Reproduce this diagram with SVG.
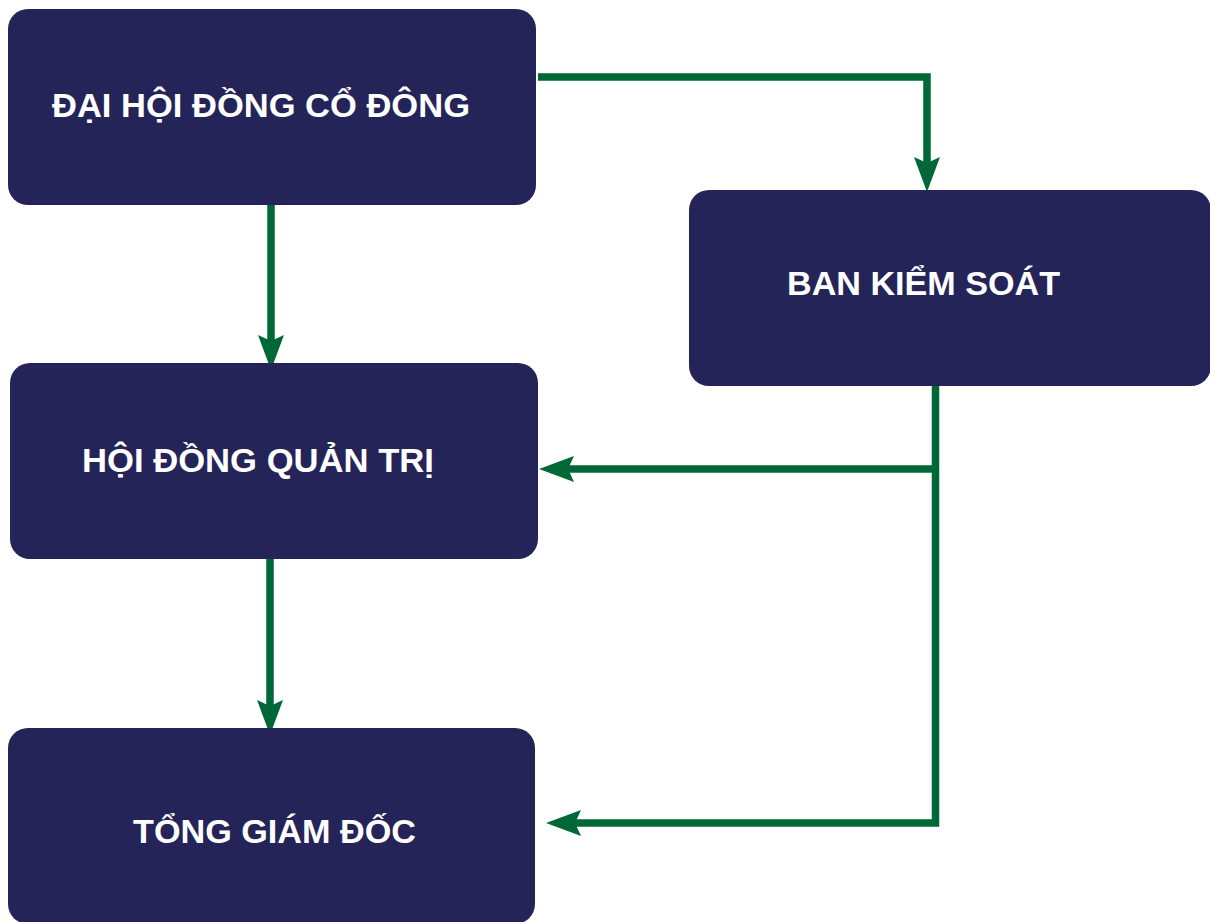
<svg xmlns="http://www.w3.org/2000/svg" width="1210" height="922" viewBox="0 0 1210 922">
  <defs>
    <style>
      .box { fill: #252459; }
      .lbl { fill: #ffffff; font-family: "Liberation Sans", Arial, sans-serif; font-weight: bold; font-size: 33px; }
      .conn { fill: none; stroke: #006837; stroke-width: 7.5; stroke-linejoin: miter; }
    </style>
    <marker id="arr" markerUnits="userSpaceOnUse" markerWidth="36" markerHeight="28" refX="10" refY="13" orient="auto" viewBox="0 0 36 26">
      <path d="M0,0 L35,13 L0,26 L6,13 Z" fill="#006837"/>
    </marker>
  </defs>
  <rect width="1210" height="922" fill="#ffffff"/>

  <g id="connectors">
    <path class="conn" d="M538,77 H927 V167" marker-end="url(#arr)"/>
    <path class="conn" d="M271,195 V345" marker-end="url(#arr)"/>
    <path class="conn" d="M270,559 V710" marker-end="url(#arr)"/>
    <path class="conn" d="M935.5,386 V823 H571" marker-end="url(#arr)"/>
    <path class="conn" d="M935.5,469 H564" marker-end="url(#arr)"/>
  </g>

  <g id="node-dhcd">
    <rect class="box" x="8" y="9" width="528" height="196" rx="20" ry="20"/>
    <text class="lbl" x="52" y="117" textLength="418" lengthAdjust="spacingAndGlyphs">ĐẠI HỘI ĐỒNG CỔ ĐÔNG</text>
  </g>

  <g id="node-bks">
    <rect class="box" x="689" y="190" width="522" height="196" rx="20" ry="20"/>
    <text class="lbl" x="787" y="295" textLength="273" lengthAdjust="spacingAndGlyphs">BAN KIỂM SOÁT</text>
  </g>

  <g id="node-hdqt">
    <rect class="box" x="10" y="363" width="528" height="196" rx="20" ry="20"/>
    <text class="lbl" x="82" y="472" textLength="352" lengthAdjust="spacingAndGlyphs">HỘI ĐỒNG QUẢN TRỊ</text>
  </g>

  <g id="node-tgd">
    <rect class="box" x="8" y="728" width="527" height="196" rx="20" ry="20"/>
    <text class="lbl" x="133" y="843" textLength="283" lengthAdjust="spacingAndGlyphs">TỔNG GIÁM ĐỐC</text>
  </g>
</svg>
